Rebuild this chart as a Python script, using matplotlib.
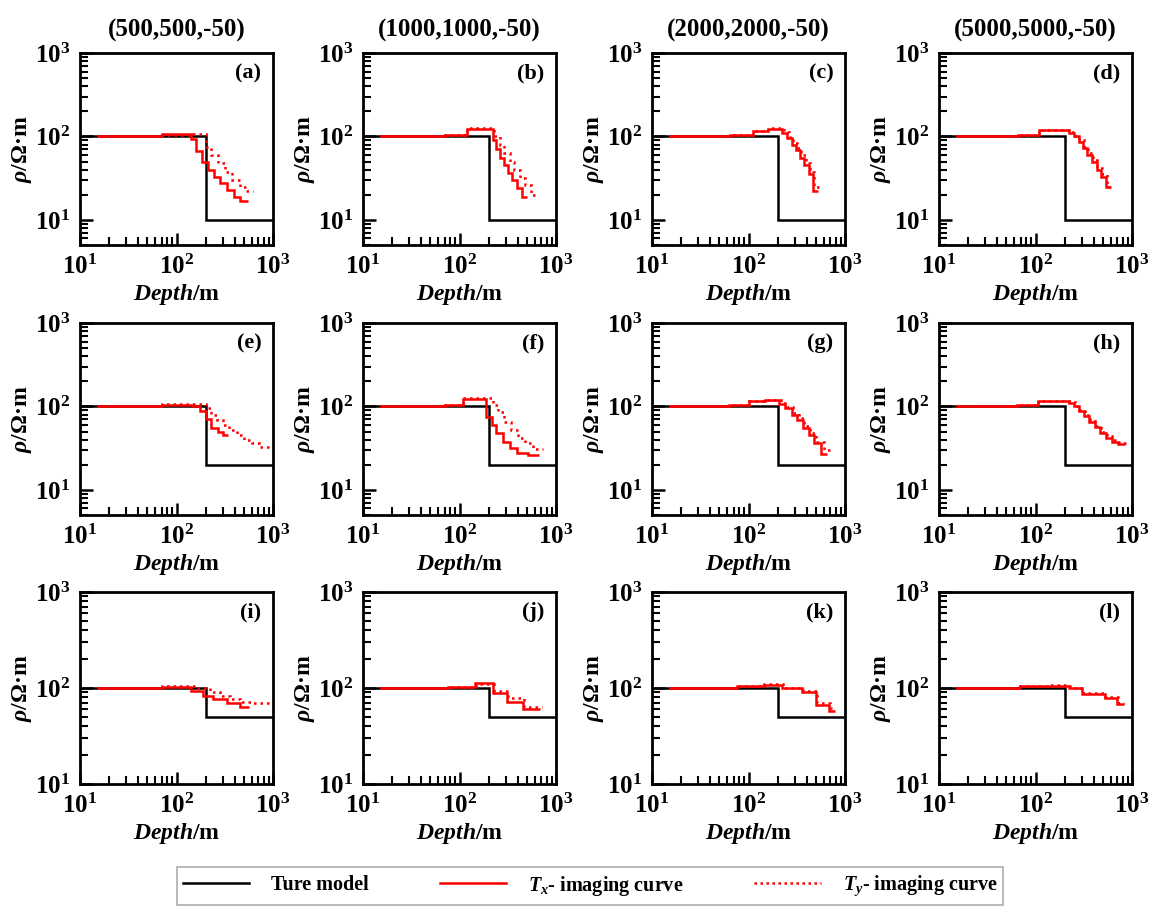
import matplotlib
matplotlib.use("Agg")
import matplotlib.pyplot as plt
from matplotlib.lines import Line2D
from matplotlib.ticker import FixedLocator, NullFormatter

plt.rcParams['font.family'] = ['Liberation Serif', 'DejaVu Serif']
plt.rcParams['font.weight'] = 'bold'
plt.rcParams['mathtext.fontset'] = 'custom'
plt.rcParams['mathtext.rm'] = 'Liberation Serif:bold'
plt.rcParams['mathtext.it'] = 'Liberation Serif:bold:italic'
plt.rcParams['mathtext.bf'] = 'Liberation Serif:bold'

col_titles = ["(500,500,-50)", "(1000,1000,-50)", "(2000,2000,-50)", "(5000,5000,-50)"]
panel_labels = ["(a)", "(b)", "(c)", "(d)", "(e)", "(f)", "(g)", "(h)", "(i)", "(j)", "(k)", "(l)"]

# true model per row: edges and resistivity
true_edges = [10, 200, 1000]
true_rho_rows = [[100, 10], [100, 20], [100, 50]]
ylims = [(5, 1000), (5, 1000), (10, 1000)]

# Tx imaging curves (edges have one more entry than values)
tx_edges = [
    [15, 70, 140, 160, 185, 210, 245, 280, 330, 390, 460, 550],
    [15, 70, 120, 220, 240, 265, 290, 320, 350, 390, 440, 500],
    [15, 64, 112, 160, 225, 250, 280, 310, 340, 380, 420, 470, 530],
    [15, 66, 110, 225, 250, 280, 310, 345, 385, 430, 480, 540, 600],
    [15, 70, 150, 175, 200, 230, 270, 300, 340],
    [15, 70, 110, 190, 215, 240, 280, 330, 390, 510, 670],
    [15, 63, 102, 150, 205, 240, 280, 320, 370, 420, 480, 560, 650],
    [15, 64, 105, 220, 250, 280, 320, 360, 410, 470, 540, 620, 720, 850],
    [15, 70, 140, 190, 240, 330, 450, 570],
    [15, 76, 145, 220, 310, 450, 690],
    [15, 76, 146, 224, 360, 500, 690, 780],
    [15, 69, 131, 225, 305, 525, 700, 820],
]
tx_rho = [
    [100, 107, 92, 67, 50, 40, 33, 28, 23, 19, 17],
    [100, 103, 122, 90, 70, 55, 45, 36, 30, 24, 19],
    [100, 104, 115, 122, 110, 95, 80, 68, 55, 45, 35, 22],
    [100, 105, 118, 110, 100, 85, 72, 60, 50, 40, 33, 25],
    [100, 105, 100, 88, 70, 55, 50, 45],
    [100, 103, 123, 75, 60, 48, 38, 32, 28, 26],
    [100, 104, 115, 118, 108, 95, 80, 68, 55, 45, 36, 27],
    [100, 104, 115, 110, 100, 88, 76, 65, 56, 48, 42, 38, 35],
    [100, 103, 92, 82, 76, 70, 64],
    [100, 103, 112, 89, 71, 60],
    [100, 104, 108, 100, 90, 66, 58],
    [100, 104, 106, 100, 87, 78, 68],
]

# Ty imaging curves
ty_edges = [
    [15, 70, 150, 200, 230, 270, 320, 380, 450, 530, 620],
    [15, 70, 120, 230, 260, 290, 330, 370, 420, 480, 550, 600],
    [15, 64, 112, 160, 235, 260, 290, 320, 350, 390, 430, 480, 560],
    [15, 66, 110, 230, 255, 285, 315, 350, 390, 435, 485, 545, 610],
    [15, 70, 200, 230, 260, 300, 350, 420, 500, 600, 720, 930],
    [15, 70, 110, 220, 250, 290, 340, 400, 480, 580, 740],
    [15, 63, 102, 150, 215, 250, 290, 330, 380, 430, 500, 600, 720],
    [15, 64, 105, 225, 255, 285, 325, 365, 415, 475, 545, 625, 725, 870],
    [15, 70, 160, 220, 280, 360, 460, 600, 900],
    [15, 76, 150, 230, 320, 470, 720],
    [15, 76, 146, 230, 370, 510, 700, 790],
    [15, 69, 131, 230, 310, 530, 710, 830],
]
ty_rho = [
    [100, 104, 106, 75, 60, 48, 38, 30, 25, 22],
    [100, 103, 125, 100, 80, 63, 50, 40, 32, 26, 20],
    [100, 104, 117, 125, 112, 98, 84, 72, 60, 48, 38, 25],
    [100, 105, 120, 112, 102, 90, 75, 63, 52, 42, 35, 25],
    [100, 106, 95, 80, 68, 60, 52, 45, 40, 36, 33],
    [100, 103, 125, 105, 85, 65, 52, 42, 36, 31],
    [100, 104, 116, 120, 110, 98, 84, 72, 58, 48, 38, 30],
    [100, 104, 116, 112, 102, 90, 78, 67, 58, 50, 44, 40, 36],
    [100, 104, 100, 90, 82, 76, 72, 70],
    [100, 103, 110, 92, 78, 64],
    [100, 104, 109, 100, 92, 70, 62],
    [100, 104, 107, 100, 89, 80, 70],
]

major_ticks = [10, 100, 1000]
major_labels = [r'$10^{1}$', r'$10^{2}$', r'$10^{3}$']
minor_ticks = [2, 3, 4, 5, 6, 7, 8, 9, 20, 30, 40, 50, 60, 70, 80, 90,
               200, 300, 400, 500, 600, 700, 800, 900]

W, H = 1154, 911
fig = plt.figure(figsize=(W / 100, H / 100), dpi=100)

col_left = [80, 363, 652, 939]
row_top = [53, 323, 592]
ax_w, ax_h = 193, 192

RED = '#ff0000'
for idx in range(12):
    r, c = divmod(idx, 4)
    left = col_left[c] / W
    bottom = 1 - (row_top[r] + ax_h) / H
    ax = fig.add_axes([left, bottom, ax_w / W, ax_h / H])
    ax.set_xscale('log')
    ax.set_yscale('log')
    ax.stairs(true_rho_rows[r], true_edges, baseline=None, color='black', lw=1.8, zorder=2)
    ax.stairs(tx_rho[idx], tx_edges[idx], baseline=None, color=RED, lw=1.8, zorder=3)
    ax.stairs(ty_rho[idx], ty_edges[idx], baseline=None, color=RED, lw=1.8, ls=(0, (1, 1.6)), zorder=3)
    ax.set_xlim(10, 1000)
    ax.set_ylim(*ylims[r])
    for s in ax.spines.values():
        s.set_linewidth(2)
    ax.xaxis.set_major_locator(FixedLocator(major_ticks))
    ax.yaxis.set_major_locator(FixedLocator(major_ticks))
    ax.xaxis.set_minor_locator(FixedLocator(minor_ticks))
    ax.yaxis.set_minor_locator(FixedLocator(minor_ticks))
    ax.yaxis.set_minor_formatter(NullFormatter())
    ax.xaxis.set_minor_formatter(NullFormatter())
    ax.set_xticklabels(major_labels)
    ax.set_yticklabels(major_labels)
    ax.tick_params(axis='both', which='major', direction='in', bottom=True, left=True,
                   top=False, right=False, length=9, width=1.8, color='black',
                   labelsize=18, pad=7)
    ax.tick_params(axis='both', which='minor', direction='in', bottom=True, left=True,
                   top=False, right=False, length=5.5, width=1.5, color='black')
    ax.set_xlabel(r'$Depth$/m', fontsize=17, fontweight='bold', labelpad=2)
    ax.set_ylabel(r'$\rho$/Ω·m', fontsize=17, fontweight='bold', labelpad=1)
    ax.text(0.94, 0.895, panel_labels[idx], transform=ax.transAxes, ha='right', va='center',
            fontsize=16, fontweight='bold')
    if r == 0:
        ax.set_title(col_titles[c], fontsize=18, fontweight='bold', pad=12)

handles = [
    Line2D([], [], color='black', lw=1.8),
    Line2D([], [], color=RED, lw=1.8),
    Line2D([], [], color=RED, lw=1.8, ls=(0, (1, 1.4))),
]
labels = ['Ture model', r'$T_x$- imaging curve', r'$T_y$- imaging curve']
leg = fig.legend(handles, labels, ncol=3, loc='center',
                 bbox_to_anchor=(590 / W, 1 - 886 / H), frameon=True,
                 fancybox=False, edgecolor='#999999', handlelength=3.3, handletextpad=1.1,
                 columnspacing=3.5, borderpad=0.3, prop={'weight': 'bold', 'size': 14.5})
leg.get_frame().set_linewidth(1.2)

fig.savefig('out.png', dpi=100)
